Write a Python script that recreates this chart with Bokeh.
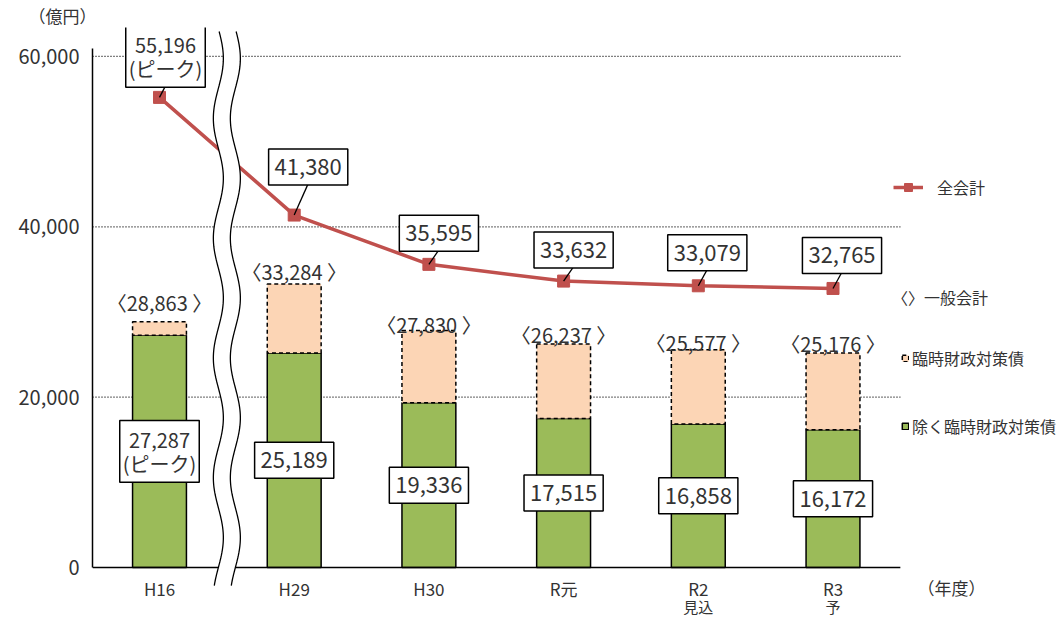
import numpy as np
from bokeh.plotting import figure
from bokeh.models import (Range1d, ColumnDataSource, Legend, LegendItem, Label,
                          FixedTicker, NumeralTickFormatter)
from bokeh.core.properties import value
from bokeh.embed import file_html
from bokeh.resources import INLINE

# ---------------- data ----------------
categories = ["H16", "H29", "H30", "R元", "R2", "R3"]
category_notes = ["", "", "", "", "見込", "予"]
total_all = [55196, 41380, 35595, 33632, 33079, 32765]        # 全会計
general_total = [28863, 33284, 27830, 26237, 25577, 25176]    # 〈〉一般会計
excl_special = [27287, 25189, 19336, 17515, 16858, 16172]     # 除く臨時財政対策債
peak_flags = [True, False, False, False, False, False]
y_ticks = [0, 20000, 40000, 60000]

# ---------------- layout / style ----------------
FONT_NAME = "Noto Sans CJK JP"
FONT = value(FONT_NAME)
TXT = "#333333"
RED = "#C0504D"
GREEN = "#9BBB59"
PEACH = "#FCD5B5"
W, H = 1063, 619
FRAME_LEFT = 92
FRAME_TOP = 26
ZERO_PX = 567                    # pixel row of y = 0
K = 512 / 60000                  # px per unit (y)
PPX = 134.7                      # px per category step
x_lo = -67 / PPX
x_hi = x_lo + (W - FRAME_LEFT) / PPX
y_hi = (ZERO_PX - FRAME_TOP) / K
y_lo = -(H - ZERO_PX) / K
ppx, ppy = PPX, K
GRID_END = 5.5
BAR_W = 0.40

line_dx = [6, 14, 10, 10, 9, 9]          # label box offsets (px)
line_dy = [-41, -48, -31, -31, -33, -33]
total_gap = [19, 13, 6, 10, 7, 10]

xs = list(range(len(categories)))
special = [g - e for g, e in zip(general_total, excl_special)]

p = figure(width=W, height=H, x_range=Range1d(x_lo, x_hi), y_range=Range1d(y_lo, y_hi),
           output_backend="svg", toolbar_location=None, x_axis_location=None,
           min_border=0, min_border_left=FRAME_LEFT, min_border_top=FRAME_TOP,
           title="（億円）")
p.title.align = "left"
p.title.offset = -64
p.title.standoff = 0
p.title.vertical_align = "bottom"
p.title.text_font = FONT_NAME
p.title.text_font_size = "17px"
p.title.text_font_style = "normal"
p.title.text_color = TXT
p.xgrid.visible = False
p.ygrid.visible = False
p.outline_line_color = None
p.background_fill_color = "white"
p.border_fill_color = "white"

yax = p.yaxis[0]
yax.ticker = FixedTicker(ticks=y_ticks)
yax.formatter = NumeralTickFormatter(format="0,0")
yax.bounds = (0, 60900)
yax.axis_line_color = "black"
yax.axis_line_width = 1.5
yax.major_tick_line_color = None
yax.minor_tick_line_color = None
yax.major_tick_out = 0
yax.major_tick_in = 0
yax.major_label_standoff = 13
yax.major_label_text_font = FONT_NAME
yax.major_label_text_font_size = "20px"
yax.major_label_text_color = TXT

# gridlines (dotted)
p.segment(x0=[x_lo] * 3, y0=y_ticks[1:], x1=[GRID_END] * 3, y1=y_ticks[1:],
          line_color="black", line_width=1.2, line_dash="1 2")

# bars
src = ColumnDataSource(dict(x=xs, excl=excl_special, gen=general_total, sp=special))
green_r = p.vbar(x="x", width=BAR_W, bottom=0, top="excl", fill_color=GREEN,
                 line_color="black", line_width=1.5, source=src)
peach_r = p.vbar(x="x", width=BAR_W, bottom="excl", top="gen", fill_color=PEACH,
                 line_color="black", line_width=1.5, line_dash="4 3", source=src)

# baseline
p.segment(x0=[x_lo], y0=[0], x1=[GRID_END], y1=[0], line_color="black", line_width=1.5)

# line
line_r = p.line(xs, total_all, line_color=RED, line_width=3.5)
sq_r = p.scatter(xs, total_all, marker="square", size=12, fill_color=RED, line_color=RED)

# break symbol between H16 and H29
yb = np.linspace(-(585 - ZERO_PX) / ppy, (ZERO_PX - 30) / ppy, 300)
xc = 0.5 + (5 / ppx) * np.sin(2 * np.pi * (yb * ppy) / 120.0)
left = xc - 8.5 / ppx
right = xc + 8.5 / ppx
p.patch(np.concatenate([left, right[::-1]]), np.concatenate([yb, yb[::-1]]),
        fill_color="white", line_color=None)
p.line(left, yb, line_color="black", line_width=1.3)
p.line(right, yb, line_color="black", line_width=1.3)

# leader lines for 全会計 labels
def half_h(n):
    return 16.5 if n == 1 else 29.5

lx1, ly1 = [], []
for i, v in enumerate(total_all):
    n = 2 if peak_flags[i] else 1
    lx1.append(i + line_dx[i] / ppx)
    ly1.append(v - (line_dy[i] + half_h(n)) / ppy)
p.segment(x0=xs, y0=total_all, x1=lx1, y1=ly1, line_color="black", line_width=1.3)

box_common = dict(text_align="center", text_baseline="middle", text_font=FONT,
                  text_color=TXT, background_fill_color="white",
                  border_line_color="black", border_line_width=1.5)
box_single = dict(text_font_size="22px", padding=(6, 10), text_line_height=1.2, **box_common)
box_multi = dict(text_font_size="20px", padding=(3, 4), text_line_height=0.85, **box_common)

def split(idx_ok, **cols):
    return ColumnDataSource({k: [v[i] for i in range(len(xs)) if idx_ok(i)] for k, v in cols.items()})

# 全会計 value boxes
line_txt = [f"{v:,}" + ("\n(ピーク)" if pk else "") for v, pk in zip(total_all, peak_flags)]
for multi in (False, True):
    s = split(lambda i, m=multi: peak_flags[i] == m, x=xs, y=total_all, t=line_txt,
              dx=line_dx, dy=line_dy)
    p.text(x="x", y="y", text="t", x_offset="dx", y_offset="dy", source=s,
           **(box_multi if multi else box_single))

# 除く臨時財政対策債 value boxes
bar_txt = [f"{v:,}" + ("\n(ピーク)" if pk else "") for v, pk in zip(excl_special, peak_flags)]
for multi in (False, True):
    s = split(lambda i, m=multi: peak_flags[i] == m, x=xs,
              y=[v / 2 for v in excl_special], t=bar_txt)
    p.text(x="x", y="y", text="t", source=s, **(box_multi if multi else box_single))

# 一般会計 totals
tsrc = ColumnDataSource(dict(x=xs, y=general_total,
                             t=[f"〈{v:,} 〉" for v in general_total],
                             dy=[-g for g in total_gap]))
tot_r = p.text(x="x", y="y", text="t", y_offset="dy", source=tsrc,
               text_align="center", text_baseline="alphabetic", text_font=FONT,
               text_font_size="20px", text_color=TXT)

# category labels (year + note line)
csrc = ColumnDataSource(dict(x=xs, y=[0] * len(xs), t=categories, n=category_notes))
p.text(x="x", y="y", text="t", source=csrc, y_offset=21,
       text_align="center", text_baseline="middle", text_font=FONT,
       text_font_size="17px", text_color=TXT)
p.text(x="x", y="y", text="n", source=csrc, y_offset=39,
       text_align="center", text_baseline="middle", text_font=FONT,
       text_font_size="15px", text_color=TXT)

# unit label (年度)
p.add_layout(Label(x=951 - FRAME_LEFT, y=H - 587, x_units="screen", y_units="screen",
                   text="（年度）", text_align="center", text_baseline="middle",
                   text_font=FONT_NAME, text_font_size="17px", text_color=TXT))

# legends
common = dict(padding=0, margin=0, border_line_color=None, background_fill_alpha=0,
              label_text_font=FONT_NAME, label_text_font_size="16px",
              label_text_color=TXT, label_height=20)
legA = Legend(items=[LegendItem(label="全会計", renderers=[line_r, sq_r])],
              location=(893 - FRAME_LEFT, H - 199), glyph_width=30, glyph_height=20,
              label_standoff=14, **common)
legB = Legend(items=[LegendItem(label="〈〉一般会計", renderers=[tot_r])],
              location=(892 - FRAME_LEFT, H - 309), glyph_width=0, glyph_height=20,
              label_standoff=0, **common)
legC = Legend(items=[LegendItem(label="臨時財政対策債", renderers=[peach_r]),
                     LegendItem(label="除く臨時財政対策債", renderers=[green_r])],
              location=(901 - FRAME_LEFT, H - 438), glyph_width=8, glyph_height=8,
              label_standoff=3, spacing=44, **common)
for lg in (legA, legB, legC):
    p.add_layout(lg)

open("out.html", "w").write(file_html(p, INLINE))
